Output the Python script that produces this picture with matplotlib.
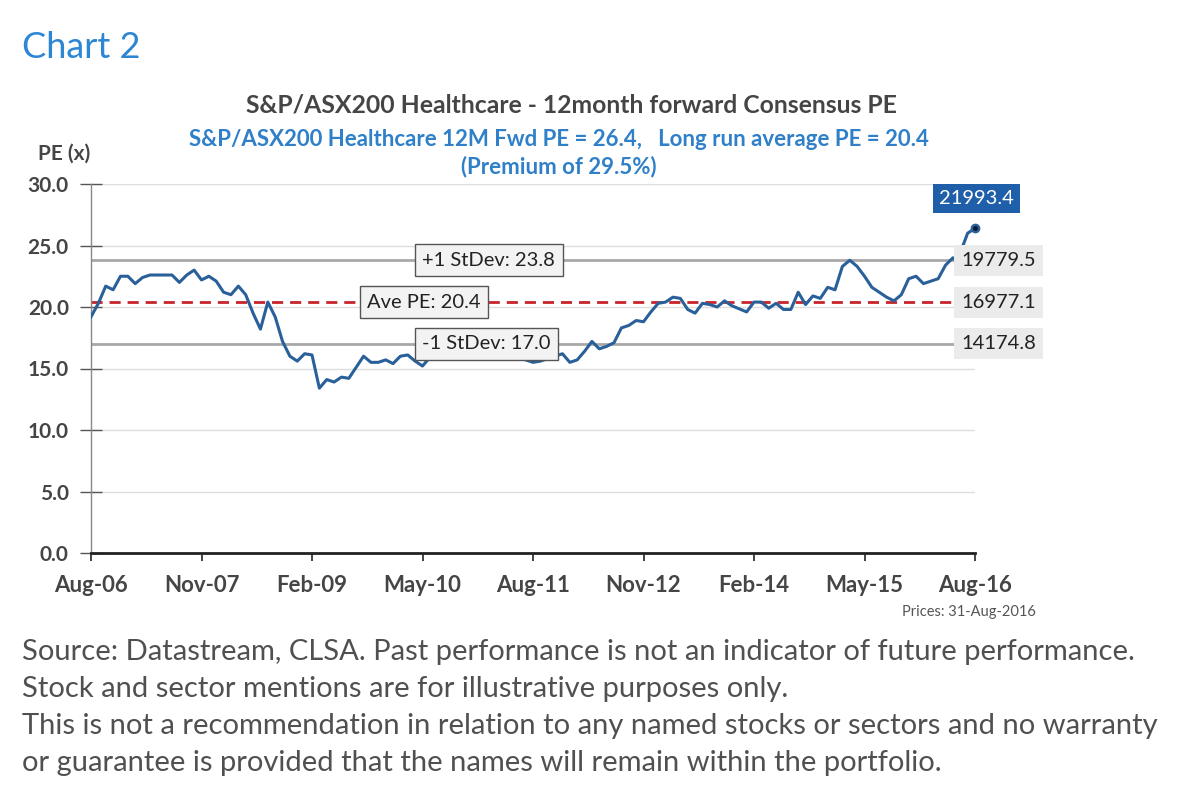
"""---------------------------------------------------------------------------------------------------------
Chart 2 : S&P/ASX200 Healthcare 12 month forward consensus PE
---------------------------------------------------------------------------------------------------------"""
import matplotlib
matplotlib.use("Agg")
import matplotlib.pyplot as plt

plt.rcParams['font.family'] = ['Lato', 'DejaVu Sans']

# month offsets from Aug-06 and PE values
months = [0, 1, 2, 3, 4, 5, 6, 7, 8, 10, 11, 12, 13, 14, 15, 16, 17, 18, 19, 20,
          21, 22, 23, 24, 25, 26, 27, 28, 29, 30, 31, 32, 33, 34, 35, 36, 37, 38, 39, 40,
          41, 42, 43, 44, 45, 46, 48, 50, 52, 54, 56, 58, 60, 61, 63, 64, 65, 66, 67, 68,
          69, 70, 71, 72, 73, 74, 75, 76, 77, 78, 79, 80, 81, 82, 83, 84, 85, 86, 87, 89,
          90, 91, 92, 93, 94, 95, 96, 97, 98, 99, 100, 101, 102, 103, 104, 105, 106, 107, 108, 109,
          110, 111, 112, 113, 114, 115, 116, 117, 117.5, 118.5, 119, 120]
pe = [19.2, 20.3, 21.7, 21.4, 22.5, 22.5, 21.9, 22.4, 22.6, 22.6, 22.6, 22.0, 22.6, 23.0, 22.2, 22.5, 22.1, 21.2, 21.0, 21.7,
      21.0, 19.5, 18.2, 20.4, 19.2, 17.2, 16.0, 15.6, 16.2, 16.1, 13.4, 14.1, 13.9, 14.3, 14.2, 15.1, 16.0, 15.5, 15.5, 15.7,
      15.4, 16.0, 16.1, 15.6, 15.2, 15.9, 16.6, 17.0, 16.5, 16.9, 16.3, 15.9, 15.5, 15.6, 16.0, 16.2, 15.5, 15.7, 16.4, 17.2,
      16.6, 16.8, 17.1, 18.3, 18.5, 18.9, 18.8, 19.6, 20.3, 20.4, 20.8, 20.7, 19.8, 19.5, 20.3, 20.2, 20.0, 20.5, 20.1, 19.6,
      20.4, 20.4, 19.9, 20.3, 19.8, 19.8, 21.2, 20.2, 20.9, 20.7, 21.6, 21.4, 23.3, 23.8, 23.3, 22.5, 21.6, 21.2, 20.8, 20.5,
      21.0, 22.3, 22.5, 21.9, 22.1, 22.3, 23.4, 24.0, 23.7, 25.2, 26.0, 26.4]

tick_months = [0, 15, 30, 45, 60, 75, 90, 105, 120]
tick_labels = ["Aug-06", "Nov-07", "Feb-09", "May-10", "Aug-11", "Nov-12", "Feb-14", "May-15", "Aug-16"]
y_ticks = [0, 5, 10, 15, 20, 25, 30]

ref_levels = [23.8, 20.4, 17.0]
ref_names = ["+1 StDev: 23.8", "Ave PE: 20.4", "-1 StDev: 17.0"]
ref_index = ["19779.5", "16977.1", "14174.8"]
last_index = "21993.4"

footer = ["Source: Datastream, CLSA. Past performance is not an indicator of future performance.",
          "Stock and sector mentions are for illustrative purposes only.",
          "This is not a recommendation in relation to any named stocks or sectors and no warranty",
          "or guarantee is provided that the names will remain within the portfolio."]

LINE_BLUE = "#2a6099"
TEXT_GREY = "#454545"

"""---------------------------------------------------------------------------------
#  Draw the PE line, reference lines and their labels
#---------------------------------------------------------------------------------"""
def drawChart(fig):
    ax = fig.add_axes([91 / 1200, 1 - 553 / 796, 884 / 1200, 369 / 796])
    ax.set_xlim(0, 120)
    ax.set_ylim(0, 30)

    for y in y_ticks[1:]:
        ax.axhline(y, color="#dedede", lw=1, zorder=1)

    ax.axhline(ref_levels[0], color="#a8a8a8", lw=2, zorder=2)
    ax.axhline(ref_levels[1], color="#c8242b", lw=2, ls=(0, (4, 2.5)), zorder=2)
    ax.axhline(ref_levels[2], color="#a8a8a8", lw=2, zorder=2)

    ax.plot(months, pe, color=LINE_BLUE, lw=2.2, zorder=3, solid_joinstyle="round")
    ax.plot(months[-1], pe[-1], "o", color=LINE_BLUE, ms=6, zorder=4, clip_on=False)
    ax.plot(months[-1], pe[-1], "o", color="#0a1a33", ms=2.5, zorder=5, clip_on=False)

    # boxes inside the plot
    inner_x = [54.0, 45.2, 53.7]
    for x, y, name in zip(inner_x, ref_levels, ref_names):
        ax.text(x, y, name, fontsize=14.5, color="#222222", ha="center", va="center", zorder=6,
                bbox=dict(boxstyle="square,pad=0.38", fc="#f3f3f3", ec="#555555", lw=1))

    # index levels on the right
    for y, lab in zip(ref_levels, ref_index):
        ax.text(118.1, y, lab, fontsize=14.5, color="#222222", ha="left", va="center", zorder=6,
                clip_on=False, bbox=dict(boxstyle="square,pad=0.35", fc="#ebebeb", ec="none"))
    ax.text(120.2, 28.85, last_index, fontsize=14.5, color="white", ha="center", va="center", zorder=6,
            clip_on=False, bbox=dict(boxstyle="square,pad=0.3", fc="#1f5ea8", ec="none"))

    ax.set_xticks(tick_months)
    ax.set_xticklabels(tick_labels, fontsize=16, fontweight="bold", color=TEXT_GREY)
    ax.set_yticks(y_ticks)
    ax.set_yticklabels(["%.1f" % v for v in y_ticks], fontsize=15, fontweight="bold", color=TEXT_GREY)
    ax.tick_params(axis="x", direction="out", length=6, width=1.2, color="#222222", pad=10)
    ax.tick_params(axis="y", direction="inout", length=16, width=1, color="#555555", pad=8)

    for side in ["top", "right"]:
        ax.spines[side].set_visible(False)
    ax.spines["left"].set_color("#888888")
    ax.spines["left"].set_linewidth(1)
    ax.spines["bottom"].set_color("#222222")
    ax.spines["bottom"].set_linewidth(2)
    return ax

"""---------------------------------------------------------------------------------
#  Titles and footer text
#---------------------------------------------------------------------------------"""
def drawTexts(fig):
    fig.text(22 / 1200, 1 - 47 / 796, "Chart 2", fontsize=26, color="#2d86d4", ha="left", va="center")
    fig.text(571 / 1200, 1 - 105 / 796, "S&P/ASX200 Healthcare - 12month forward Consensus PE",
             fontsize=17.8, fontweight="bold", color=TEXT_GREY, ha="center", va="center")
    fig.text(559 / 1200, 1 - 140 / 796,
             "S&P/ASX200 Healthcare 12M Fwd PE = 26.4,   Long run average PE = 20.4",
             fontsize=16, fontweight="bold", color="#2f80c8", ha="center", va="center")
    fig.text(559 / 1200, 1 - 167 / 796, "(Premium of 29.5%)",
             fontsize=16, fontweight="bold", color="#2f80c8", ha="center", va="center")
    fig.text(64 / 1200, 1 - 154 / 796, "PE (x)", fontsize=15, fontweight="bold", color=TEXT_GREY,
             ha="center", va="center")
    fig.text(1036 / 1200, 1 - 612 / 796, "Prices: 31-Aug-2016", fontsize=10.5, color="#555555",
             ha="right", va="center")
    for i, line in enumerate(footer):
        fig.text(22 / 1200, 1 - (652 + 37 * i) / 796, line, fontsize=21, color="#505050",
                 ha="left", va="center")

#---------------------------------------------------------------------------------------------------------
#  Main function
#---------------------------------------------------------------------------------------------------------
def main():
    fig = plt.figure(figsize=(12, 7.96), dpi=100)
    fig.patch.set_facecolor("white")
    drawChart(fig)
    drawTexts(fig)
    fig.savefig("out.png", dpi=100, facecolor="white")

if __name__ == "__main__":
    main()
